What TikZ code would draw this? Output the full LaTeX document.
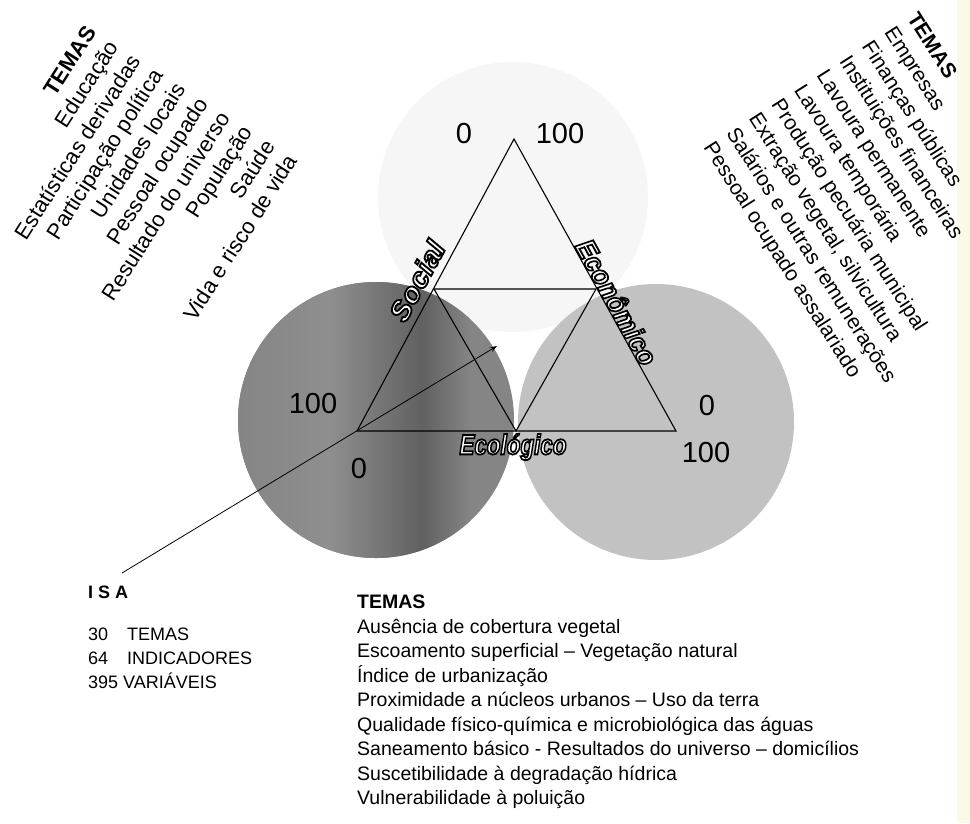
\documentclass[tikz,border=0pt]{standalone}
\usepackage{fontspec}
\setmainfont{Liberation Sans}
\usepackage{graphicx}
\usetikzlibrary{arrows.meta}
\definecolor{leftgray}{gray}{0.52}
\definecolor{leftdark}{gray}{0.38}
\definecolor{leftlight}{gray}{0.56}
\definecolor{rightgray}{gray}{0.76}
\definecolor{topgray}{gray}{0.965}
\definecolor{paleyellow}{RGB}{250,250,230}
\newcommand\outlinedtext[1]{{\color{white}\special{pdf:literal direct 2 Tr 1.8 w 0 G}#1\special{pdf:literal direct 0 Tr}}}
\begin{document}
\begin{tikzpicture}[x=1pt,y=-1pt,
  numlbl/.style={inner sep=0, font=\fontsize{29}{30}\selectfont},
  axislbl/.style={inner sep=0, font=\fontsize{28}{30}\selectfont\bfseries\itshape},
  side/.style={draw=black, line width=1.1pt},
  rotlist/.style={inner sep=0, font=\fontsize{22}{26.5}\selectfont},
  rotlistr/.style={inner sep=0, font=\fontsize{21}{26.8}\selectfont},
  botlist/.style={inner sep=0, font=\fontsize{19.5}{24.5}\selectfont},
  isatext/.style={inner sep=0, font=\fontsize{18}{20}\selectfont, anchor=west}]
\useasboundingbox (0,0) rectangle (970,823);
\fill[white] (0,0) rectangle (970,823);
\fill[paleyellow] (957,0) rectangle (970,823);

% circles
\fill[topgray] (513,197) circle[radius=135];
\begin{scope}
  \clip (376,420) circle[radius=138];
  \fill[leftgray] (236,280) rectangle (516,560);
  \shade[left color=leftgray, right color=leftlight] (236,280) rectangle (330,560);
  \shade[left color=leftlight, right color=leftdark] (330,280) rectangle (422,560);
  \shade[left color=leftdark, right color=leftgray] (422,280) rectangle (470,560);
\end{scope}
\fill[rightgray] (656,422) circle[radius=138];

% triangle
\coordinate (A) at (514,139);
\coordinate (B) at (357,431);
\coordinate (C) at (676,431);
\coordinate (D) at (434,289);
\coordinate (E) at (596,289);
\coordinate (F) at (516,431);
\draw[side, line join=miter] (A) -- (B) -- (C) -- cycle;
\draw[side] (D) -- (E) -- (F) -- cycle;

% ISA connector
\coordinate (isastart) at (122,573);
\coordinate (isaend) at (497,346);
\draw[line width=0.8pt, -{Stealth[length=7pt,width=5pt]}] (isastart) -- (isaend);

% scale numbers
\node[numlbl] (n0top) at (464,134) {0};
\node[numlbl] (n100top) at (560,134) {100};
\node[numlbl] (n100l) at (313,404) {100};
\node[numlbl] (n0l) at (359,469) {0};
\node[numlbl] (n0r) at (707,406) {0};
\node[numlbl] (n100r) at (706,453) {100};

% axis labels
\node[axislbl, rotate=61.6] (social) at (417,281) {\scalebox{1.05}[1]{\outlinedtext{Social}}};
\node[axislbl, rotate=-61.1] (econ) at (617,302) {\scalebox{0.92}[1]{\outlinedtext{Econômico}}};
\node[axislbl] (ecol) at (513,447) {\scalebox{0.8}[1]{\outlinedtext{Ecológico}}};

% social themes
\node[rotlist, rotate=57.5, anchor=north east, align=right] (socialtemas) at (84,24)
 {\textbf{TEMAS}\\Educação\\Estatísticas derivadas\\Participação política\\Unidades locais\\Pessoal ocupado\\Resultado do universo\\População\\Saúde\\Vida e risco de vida};

% economic themes
\node[rotlistr, rotate=-57.5, anchor=north west, align=left] (econtemas) at (919,10)
 {\textbf{TEMAS}\\Empresas\\Finanças públicas\\Instituições financeiras\\Lavoura permanente\\Lavoura temporária\\Produção pecuária municipal\\Extração vegetal, silvicultura\\Salários e outras remunerações\\Pessoal ocupado assalariado};

% ecological themes
\node[botlist, anchor=north west, align=left] (ecoltemas) at (357,595)
 {\textbf{TEMAS}\\Ausência de cobertura vegetal\\Escoamento superficial – Vegetação natural\\Índice de urbanização\\Proximidade a núcleos urbanos – Uso da terra\\Qualidade físico-química e microbiológica das águas\\Saneamento básico - Resultados do universo – domicílios\\Suscetibilidade à degradação hídrica\\Vulnerabilidade à poluição};

% ISA summary
\node[isatext, font=\fontsize{18}{20}\selectfont\bfseries] (isa) at (88,592) {I S A};
\node[isatext] (n30) at (88,634) {30};
\node[isatext] (temas30) at (127,634) {TEMAS};
\node[isatext] (n64) at (88,658) {64};
\node[isatext] (ind64) at (127,658) {INDICADORES};
\node[isatext] (var395) at (88,681) {395 VARIÁVEIS};
\end{tikzpicture}
\end{document}
